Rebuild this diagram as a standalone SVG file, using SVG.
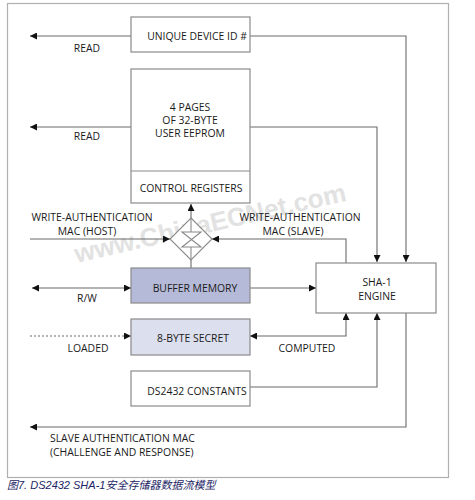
<svg xmlns="http://www.w3.org/2000/svg" width="475" height="500" viewBox="0 0 475 500">
<defs>
<marker id="ah" viewBox="0 0 10 10" refX="10" refY="5" markerWidth="8" markerHeight="7" markerUnits="userSpaceOnUse" orient="auto-start-reverse">
<path d="M0,0 L10,5 L0,10 Z" fill="#111"/>
</marker>
</defs>
<style>
.box{fill:#fff;stroke:#8a8a8a;stroke-width:1.2}
.ln{fill:none;stroke:#6a6a6a;stroke-width:1.1}
.t{font-family:"Open Sans","Liberation Sans",sans-serif;font-size:10.4px;fill:#1a1a1a;text-anchor:middle}
.tl{font-family:"Open Sans","Liberation Sans",sans-serif;font-size:10.4px;fill:#1a1a1a}
</style>
<rect width="475" height="500" fill="#fff"/>
<rect x="7.5" y="3.5" width="441" height="474" fill="none" stroke="#b0b0b0" stroke-width="1.2"/>

<text x="210" y="232" transform="rotate(-13 210 222)" font-family="Liberation Sans,sans-serif" font-size="26" font-weight="bold" fill="#e2e2e2" text-anchor="middle">www.ChinaECNet.com</text>

<g id="connectors">
<path class="ln" d="M131,36 H30" marker-end="url(#ah)"/>
<path class="ln" d="M250,36 H406 V262" marker-end="url(#ah)"/>
<path class="ln" d="M131,127 H30" marker-end="url(#ah)"/>
<path class="ln" d="M250,127 H377 V262" marker-end="url(#ah)"/>
<path class="ln" d="M191,218 V204" marker-end="url(#ah)"/>
<path class="ln" d="M30,239 H170" marker-end="url(#ah)"/>
<path class="ln" d="M346,263 V239 H212" marker-end="url(#ah)"/>
<path class="ln" d="M191,259 V268"/>
<path class="ln" d="M32,288 H131" marker-start="url(#ah)" marker-end="url(#ah)"/>
<path class="ln" d="M250,288 H316" marker-end="url(#ah)"/>
<path class="ln" d="M30,336 H131" stroke-dasharray="2,2" marker-end="url(#ah)"/>
<path class="ln" d="M250,336 H346 V313" marker-start="url(#ah)" marker-end="url(#ah)"/>
<path class="ln" d="M250,387 H377 V313" marker-end="url(#ah)"/>
<path class="ln" d="M406,313 V427 H30" marker-end="url(#ah)"/>
</g>

<g id="unique-id">
<rect class="box" x="131" y="17" width="119" height="35"/>
<text class="t" x="197" y="40">UNIQUE DEVICE ID #</text>
</g>
<g id="eeprom">
<rect class="box" x="131" y="69" width="119" height="134"/>
<line x1="131" y1="171" x2="250" y2="171" stroke="#8a8a8a" stroke-width="1.2"/>
<text class="t" x="190" y="111">4 PAGES</text>
<text class="t" x="190" y="124">OF 32-BYTE</text>
<text class="t" x="190" y="137">USER EEPROM</text>
<text class="t" x="191" y="192">CONTROL REGISTERS</text>
</g>
<g id="switch">
<path d="M191,218 L212,239 L191,260 L170,239 Z" fill="#fff" stroke="#8a8a8a" stroke-width="1.1"/>
<path d="M191,218 V232 M191,247 V260" stroke="#8a8a8a" stroke-width="1.1" fill="none"/>
<path d="M182,232 H201 L182,247 H201 Z" fill="none" stroke="#8a8a8a" stroke-width="1.1"/>
</g>
<g id="buffer">
<rect x="131" y="268" width="119" height="35" fill="#b6bad9" stroke="#8a8a8a" stroke-width="1.2"/>
<text class="t" x="195" y="292">BUFFER MEMORY</text>
</g>
<g id="secret">
<rect x="131" y="319" width="119" height="36" fill="#dcdfee" stroke="#8a8a8a" stroke-width="1.2"/>
<text class="t" x="193" y="342">8-BYTE SECRET</text>
</g>
<g id="constants">
<rect class="box" x="131" y="371" width="119" height="35"/>
<text class="t" x="197" y="395">DS2432 CONSTANTS</text>
</g>
<g id="sha">
<rect class="box" x="316" y="263" width="120" height="50"/>
<text class="t" x="377" y="286">SHA-1</text>
<text class="t" x="377" y="300">ENGINE</text>
</g>
<g id="labels">
<text class="t" x="87" y="52">READ</text>
<text class="t" x="87" y="140">READ</text>
<text class="t" x="92" y="221">WRITE-AUTHENTICATION</text>
<text class="t" x="87" y="235">MAC (HOST)</text>
<text class="t" x="300" y="221">WRITE-AUTHENTICATION</text>
<text class="t" x="293" y="235">MAC (SLAVE)</text>
<text class="t" x="87" y="302">R/W</text>
<text class="t" x="88" y="352">LOADED</text>
<text class="t" x="307" y="352">COMPUTED</text>
<text class="tl" x="50" y="442">SLAVE AUTHENTICATION MAC</text>
<text class="tl" x="50" y="456">(CHALLENGE AND RESPONSE)</text>
</g>
<text x="7" y="489" font-family="Liberation Sans,'Noto Sans CJK SC',sans-serif" font-size="11" font-style="italic" fill="#1c2566">图7. DS2432 SHA-1安全存储器数据流模型</text>
</svg>
